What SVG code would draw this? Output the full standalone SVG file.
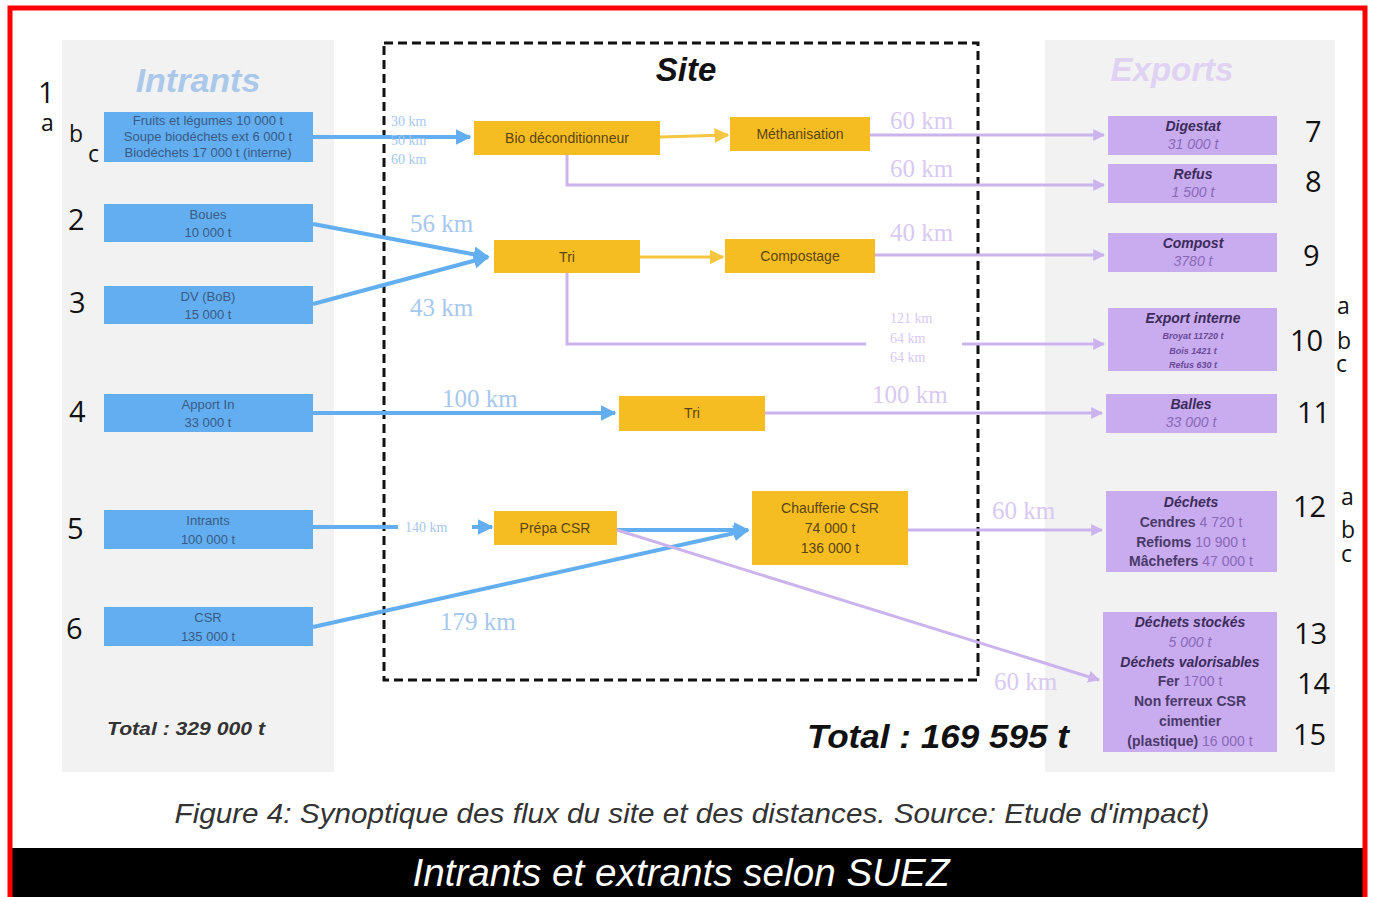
<svg xmlns="http://www.w3.org/2000/svg" width="1373" height="897" viewBox="0 0 1373 897">
  <style>
    .num { font-family: "Open Sans", "Liberation Sans", sans-serif; font-size: 29px; fill: #111; }
    .sub { font-family: "Open Sans", "Liberation Sans", sans-serif; font-size: 23px; fill: #111; }
    .bbox { fill: #62aef0; }
    .btxt { font-family: "Liberation Sans", sans-serif; font-size: 13px; fill: #3a5a86; text-anchor: middle; }
    .ybox { fill: #f6bd22; }
    .ytxt { font-family: "Liberation Sans", sans-serif; font-size: 14px; fill: #5c4410; text-anchor: middle; }
    .pbox { fill: #c9abef; }
    .phead { font-family: "Liberation Sans", sans-serif; font-size: 14px; font-weight: bold; font-style: italic; fill: #3c2c5c; text-anchor: middle; }
    .pval { font-family: "Liberation Sans", sans-serif; font-size: 14px; font-style: italic; fill: #8a68b8; text-anchor: middle; }
    .pline { font-family: "Liberation Sans", sans-serif; font-size: 14px; font-weight: bold; fill: #4a3a6a; text-anchor: middle; }
    .psmall { font-family: "Liberation Sans", sans-serif; font-size: 9px; font-weight: bold; font-style: italic; fill: #6a4a98; text-anchor: middle; }
    .kmb { font-family: "Liberation Serif", serif; font-size: 25px; fill: #a6c8ee; }
    .kmbs { font-family: "Liberation Serif", serif; font-size: 14px; fill: #a6c8ee; }
    .kmp { font-family: "Liberation Serif", serif; font-size: 25px; fill: #d8c9f2; }
    .kmps { font-family: "Liberation Serif", serif; font-size: 14px; fill: #d8c9f2; }
    .blue { stroke: #62aef0; stroke-width: 4; fill: none; }
    .purple { stroke: #cbb3ee; stroke-width: 3; fill: none; }
    .yellow { stroke: #f6c640; stroke-width: 3; fill: none; }
  </style>
  <defs>
    <marker id="ab" viewBox="0 0 10 10" refX="9" refY="5" markerWidth="4" markerHeight="4" orient="auto" markerUnits="strokeWidth">
      <path d="M0,0 L10,5 L0,10 z" fill="#62aef0"/>
    </marker>
    <marker id="ap" viewBox="0 0 10 10" refX="9" refY="5" markerWidth="4" markerHeight="4" orient="auto" markerUnits="strokeWidth">
      <path d="M0,0 L10,5 L0,10 z" fill="#cbb3ee"/>
    </marker>
    <marker id="ay" viewBox="0 0 10 10" refX="9" refY="5" markerWidth="5" markerHeight="5" orient="auto" markerUnits="strokeWidth">
      <path d="M0,0 L10,5 L0,10 z" fill="#f6c640"/>
    </marker>
  </defs>

  <!-- page -->
  <rect x="0" y="0" width="1373" height="897" fill="#ffffff"/>
  <rect x="62" y="40" width="272" height="732" fill="#f2f2f2"/>
  <rect x="1045" y="40" width="290" height="732" fill="#f2f2f2"/>

  <!-- headings -->
  <text x="198" y="92" font-family="Liberation Sans, sans-serif" font-size="34" font-weight="bold" font-style="italic" fill="#aac8ea" text-anchor="middle">Intrants</text>
  <text x="1172" y="81" font-family="Liberation Sans, sans-serif" font-size="33" font-weight="bold" font-style="italic" fill="#dfd2f2" text-anchor="middle">Exports</text>

  <!-- site boundary -->
  <rect x="384" y="43" width="594" height="637" fill="none" stroke="#111" stroke-width="3" stroke-dasharray="9,5"/>
  <text x="686" y="81" font-family="Liberation Sans, sans-serif" font-size="33" font-weight="bold" font-style="italic" fill="#111" text-anchor="middle">Site</text>

  <!-- connectors -->
  <g id="connectors">
    <!-- inputs -->
    <line class="blue" x1="313" y1="137" x2="470" y2="137" marker-end="url(#ab)"/>
    <line class="blue" x1="313" y1="224" x2="488" y2="257" marker-end="url(#ab)"/>
    <line class="blue" x1="313" y1="304" x2="488" y2="257" marker-end="url(#ab)"/>
    <line class="blue" x1="313" y1="413" x2="615" y2="413" marker-end="url(#ab)"/>
    <line class="blue" x1="313" y1="527" x2="398" y2="527"/>
    <line class="blue" x1="472" y1="527" x2="492" y2="527" marker-end="url(#ab)"/>
    <line class="blue" x1="313" y1="627" x2="748" y2="530" marker-end="url(#ab)"/>
    <line class="blue" x1="617" y1="530" x2="748" y2="530" marker-end="url(#ab)"/>
    <!-- internal -->
    <line class="yellow" x1="660" y1="137" x2="728" y2="135" marker-end="url(#ay)"/>
    <line class="yellow" x1="640" y1="257" x2="723" y2="257" marker-end="url(#ay)"/>
    <!-- exports -->
    <line class="purple" x1="870" y1="135" x2="1104" y2="135" marker-end="url(#ap)"/>
    <polyline class="purple" points="567,155 567,185 1104,185" marker-end="url(#ap)"/>
    <line class="purple" x1="875" y1="255" x2="1104" y2="255" marker-end="url(#ap)"/>
    <polyline class="purple" points="567,273 567,344 866,344"/>
    <line class="purple" x1="962" y1="344" x2="1104" y2="344" marker-end="url(#ap)"/>
    <line class="purple" x1="765" y1="413" x2="1102" y2="413" marker-end="url(#ap)"/>
    <line class="purple" x1="908" y1="530" x2="1102" y2="530" marker-end="url(#ap)"/>
    <line class="purple" x1="617" y1="530" x2="1099" y2="680" marker-end="url(#ap)"/>
  </g>

  <!-- distance labels -->
  <g id="distances">
    <text class="kmbs" x="391" y="126">30 km</text>
    <text class="kmbs" x="391" y="145">50 km</text>
    <text class="kmbs" x="391" y="164">60 km</text>
    <text class="kmb" x="410" y="232">56 km</text>
    <text class="kmb" x="410" y="316">43 km</text>
    <text class="kmb" x="442" y="407">100 km</text>
    <text class="kmbs" x="405" y="532">140  km</text>
    <text class="kmb" x="440" y="630">179 km</text>
    <text class="kmp" x="890" y="129">60 km</text>
    <text class="kmp" x="890" y="177">60 km</text>
    <text class="kmp" x="890" y="241">40 km</text>
    <text class="kmps" x="890" y="323">121 km</text>
    <text class="kmps" x="890" y="343">64 km</text>
    <text class="kmps" x="890" y="362">64 km</text>
    <text class="kmp" x="872" y="403">100 km</text>
    <text class="kmp" x="992" y="519">60 km</text>
    <text class="kmp" x="994" y="690">60 km</text>
  </g>

  <!-- inputs -->
  <g id="in1">
    <rect class="bbox" x="104" y="112" width="209" height="50"/>
    <text class="btxt" x="208" y="125" font-size="11">Fruits et légumes   10 000 t</text>
    <text class="btxt" x="208" y="141" font-size="11">Soupe biodéchets ext 6 000 t</text>
    <text class="btxt" x="208" y="157" font-size="11">Biodéchets   17 000 t (interne)</text>
  </g>
  <g id="in2">
    <rect class="bbox" x="104" y="204" width="209" height="38"/>
    <text class="btxt" x="208" y="219">Boues</text>
    <text class="btxt" x="208" y="237">10 000 t</text>
  </g>
  <g id="in3">
    <rect class="bbox" x="104" y="286" width="209" height="38"/>
    <text class="btxt" x="208" y="301">DV (BoB)</text>
    <text class="btxt" x="208" y="319">15 000 t</text>
  </g>
  <g id="in4">
    <rect class="bbox" x="104" y="394" width="209" height="38"/>
    <text class="btxt" x="208" y="409">Apport In</text>
    <text class="btxt" x="208" y="427">33 000 t</text>
  </g>
  <g id="in5">
    <rect class="bbox" x="104" y="510" width="209" height="39"/>
    <text class="btxt" x="208" y="525">Intrants</text>
    <text class="btxt" x="208" y="544">100 000 t</text>
  </g>
  <g id="in6">
    <rect class="bbox" x="104" y="607" width="209" height="39"/>
    <text class="btxt" x="208" y="622">CSR</text>
    <text class="btxt" x="208" y="641">135 000 t</text>
  </g>

  <!-- input numbering -->
  <g id="in-labels">
    <text class="num" x="38" y="103">1</text>
    <text class="sub" x="41" y="131">a</text>
    <text class="sub" x="69" y="142">b</text>
    <text class="sub" x="88" y="162">c</text>
    <text class="num" x="68" y="230">2</text>
    <text class="num" x="69" y="313">3</text>
    <text class="num" x="69" y="422">4</text>
    <text class="num" x="67" y="539">5</text>
    <text class="num" x="66" y="639">6</text>
  </g>
  <text x="107" y="735" textLength="158" lengthAdjust="spacingAndGlyphs" font-family="Liberation Sans, sans-serif" font-size="19" font-weight="bold" font-style="italic" fill="#333">Total : 329 000 t</text>

  <!-- processes -->
  <g id="bio">
    <rect class="ybox" x="474" y="121" width="186" height="34"/>
    <text class="ytxt" x="567" y="143">Bio déconditionneur</text>
  </g>
  <g id="metha">
    <rect class="ybox" x="730" y="117" width="140" height="34"/>
    <text class="ytxt" x="800" y="139">Méthanisation</text>
  </g>
  <g id="tri1">
    <rect class="ybox" x="494" y="240" width="146" height="33"/>
    <text class="ytxt" x="567" y="262">Tri</text>
  </g>
  <g id="compost">
    <rect class="ybox" x="725" y="239" width="150" height="34"/>
    <text class="ytxt" x="800" y="261">Compostage</text>
  </g>
  <g id="tri2">
    <rect class="ybox" x="619" y="396" width="146" height="35"/>
    <text class="ytxt" x="692" y="418">Tri</text>
  </g>
  <g id="prepa">
    <rect class="ybox" x="494" y="511" width="123" height="34"/>
    <text class="ytxt" x="555" y="533">Prépa CSR</text>
  </g>
  <g id="chauff">
    <rect class="ybox" x="752" y="491" width="156" height="74"/>
    <text class="ytxt" x="830" y="513">Chaufferie CSR</text>
    <text class="ytxt" x="830" y="533">74 000 t</text>
    <text class="ytxt" x="830" y="553">136 000 t</text>
  </g>

  <!-- exports -->
  <g id="out7">
    <rect class="pbox" x="1108" y="116" width="169" height="39"/>
    <text class="phead" x="1193" y="131">Digestat</text>
    <text class="pval" x="1193" y="149">31 000 t</text>
  </g>
  <g id="out8">
    <rect class="pbox" x="1108" y="164" width="169" height="39"/>
    <text class="phead" x="1193" y="179">Refus</text>
    <text class="pval" x="1193" y="197">1 500 t</text>
  </g>
  <g id="out9">
    <rect class="pbox" x="1108" y="233" width="169" height="39"/>
    <text class="phead" x="1193" y="248">Compost</text>
    <text class="pval" x="1193" y="266" font-style="normal">3780 t</text>
  </g>
  <g id="out10">
    <rect class="pbox" x="1108" y="308" width="169" height="63"/>
    <text class="phead" x="1193" y="323">Export interne</text>
    <text class="psmall" x="1193" y="339">Broyat 11720 t</text>
    <text class="psmall" x="1193" y="354">Bois 1421 t</text>
    <text class="psmall" x="1193" y="368">Refus 630 t</text>
  </g>
  <g id="out11">
    <rect class="pbox" x="1106" y="394" width="171" height="39"/>
    <text class="phead" x="1191" y="409">Balles</text>
    <text class="pval" x="1191" y="427" font-style="normal">33 000 t</text>
  </g>
  <g id="out12">
    <rect class="pbox" x="1106" y="491" width="171" height="81"/>
    <text class="phead" x="1191" y="507">Déchets</text>
    <text class="pline" x="1191" y="527">Cendres <tspan fill="#8a68b8" font-weight="normal">4 720 t</tspan></text>
    <text class="pline" x="1191" y="547">Refioms  <tspan fill="#8a68b8" font-weight="normal">10 900 t</tspan></text>
    <text class="pline" x="1191" y="566">Mâchefers <tspan fill="#8a68b8" font-weight="normal">47 000 t</tspan></text>
  </g>
  <g id="out13">
    <rect class="pbox" x="1103" y="612" width="174" height="140"/>
    <text class="phead" x="1190" y="627">Déchets stockés</text>
    <text class="pval" x="1190" y="647" font-style="normal">5 000 t</text>
    <text class="phead" x="1190" y="667">Déchets valorisables</text>
    <text class="pline" x="1190" y="686">Fer <tspan fill="#8a68b8" font-weight="normal">1700 t</tspan></text>
    <text class="pline" x="1190" y="706">Non ferreux CSR</text>
    <text class="pline" x="1190" y="726">cimentier</text>
    <text class="pline" x="1190" y="746">(plastique)  <tspan fill="#8a68b8" font-weight="normal">16 000 t</tspan></text>
  </g>

  <!-- export numbering -->
  <g id="out-labels">
    <text class="num" x="1305" y="142">7</text>
    <text class="num" x="1305" y="192">8</text>
    <text class="num" x="1303" y="266">9</text>
    <text class="num" x="1290" y="351">10</text>
    <text class="sub" x="1337" y="314">a</text>
    <text class="sub" x="1337" y="349">b</text>
    <text class="sub" x="1336" y="372">c</text>
    <text class="num" x="1297" y="423">11</text>
    <text class="num" x="1293" y="517">12</text>
    <text class="sub" x="1341" y="505">a</text>
    <text class="sub" x="1341" y="538">b</text>
    <text class="sub" x="1341" y="562">c</text>
    <text class="num" x="1294" y="644">13</text>
    <text class="num" x="1297" y="694">14</text>
    <text class="num" x="1293" y="745">15</text>
  </g>

  <text x="938" y="748" font-family="Liberation Sans, sans-serif" font-size="34" font-weight="bold" font-style="italic" fill="#111" text-anchor="middle" textLength="262" lengthAdjust="spacingAndGlyphs">Total : 169 595 t</text>

  <!-- caption -->
  <text x="692" y="823" font-family="Liberation Sans, sans-serif" font-size="28" font-style="italic" fill="#333" text-anchor="middle" textLength="1035" lengthAdjust="spacingAndGlyphs">Figure 4: Synoptique des flux du site et des distances. Source: Etude d'impact)</text>

  <!-- title bar -->
  <rect x="12" y="848" width="1351" height="49" fill="#000"/>
  <text x="681" y="886" font-family="Liberation Sans, sans-serif" font-size="38" font-style="italic" fill="#fff" text-anchor="middle" textLength="537" lengthAdjust="spacingAndGlyphs">Intrants et extrants selon SUEZ</text>

  <!-- frame -->
  <rect x="10" y="8" width="1355" height="895" fill="none" stroke="#ff0000" stroke-width="5"/>
</svg>
